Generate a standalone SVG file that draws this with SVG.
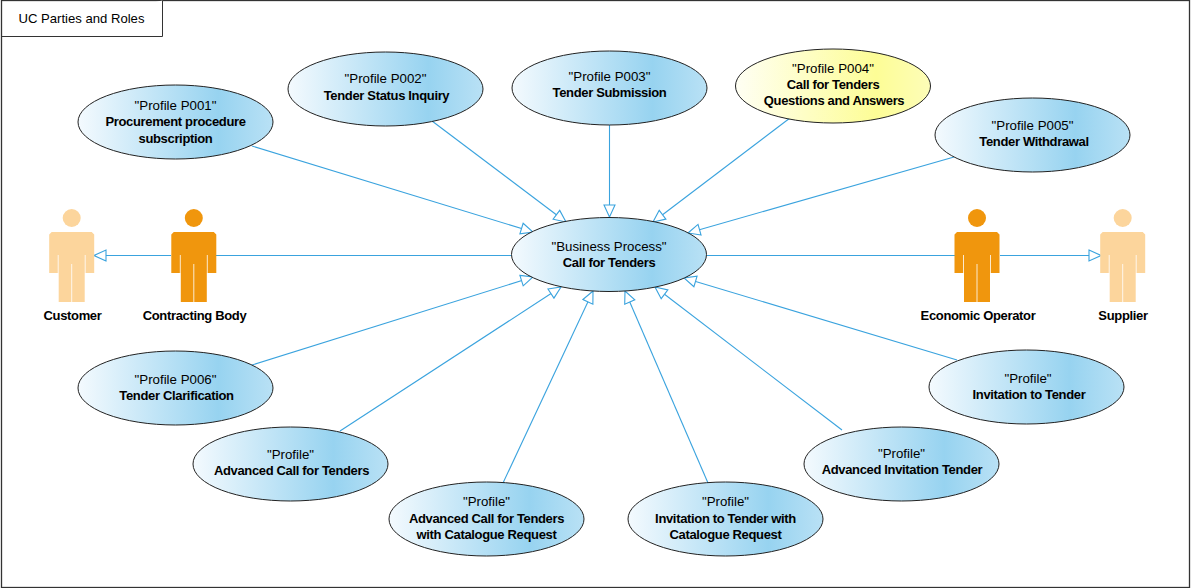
<svg xmlns="http://www.w3.org/2000/svg" xmlns:xlink="http://www.w3.org/1999/xlink" width="1191" height="588" viewBox="0 0 1191 588">
<style>
text{font-family:"Liberation Sans",Arial,sans-serif;font-size:13.300px;text-anchor:middle;fill:#000}
.b{font-weight:bold;font-size:13px;letter-spacing:-0.340px}
.e{stroke:#222;stroke-width:1;fill:url(#blue)}
.y{fill:url(#yellow)}
.c line{stroke:#3aa3de;stroke-width:1.100;fill:none}
.a{marker-end:url(#tri)}
.sep{stroke:#fff;stroke-opacity:.8;stroke-width:1;fill:none}
</style>
<defs>
<linearGradient id="blue"><stop offset="0" stop-color="#f4fafe"/><stop offset="0.72" stop-color="#97d3f0"/><stop offset="1" stop-color="#b9e1f5"/></linearGradient>
<linearGradient id="yellow"><stop offset="0" stop-color="#fffff4"/><stop offset="0.72" stop-color="#fdfd96"/><stop offset="1" stop-color="#fdfdb8"/></linearGradient>
<marker id="tri" markerUnits="userSpaceOnUse" markerWidth="14" markerHeight="14" refX="13" refY="7" orient="auto"><path d="M1 1.500L13 7L1 12.500Z" fill="#fff" stroke="#3aa3de" stroke-width="1.100"/></marker>
<g id="actor">
<circle cx="0" cy="-37" r="9"/>
<path d="M-20-23H20L22.500-20.500V18H13V47H-13V18H-22.500V-20.500Z"/>
<path class="sep" d="M-13.500 0V18M13.500 0V18M0 9V47"/>
</g>
</defs>
<rect x="0" y="0" width="1191" height="588" fill="#fff"/>
<g id="frame"><rect x="1.500" y="0.500" width="1188" height="587" fill="#fff" stroke="#333" stroke-width="1.300"/>
<path d="M1.500 36.500H162.500V0.500" fill="#fff" stroke="#333"/>
<text x="81.500" y="22.500" style="font-size:13.100px">UC Parties and Roles</text></g>
<g id="connectors" class="c">
<line class="a" x1="252" y1="146" x2="533" y2="232"/>
<line class="a" x1="432" y1="121" x2="566" y2="222"/>
<line class="a" x1="609.500" y1="125" x2="609.500" y2="217"/>
<line class="a" x1="790" y1="118" x2="653" y2="222"/>
<line class="a" x1="954" y1="157" x2="688" y2="233"/>
<line class="a" x1="252" y1="365" x2="533" y2="277"/>
<line class="a" x1="340" y1="431" x2="561" y2="287"/>
<line class="a" x1="503" y1="483" x2="593" y2="291"/>
<line class="a" x1="708" y1="483" x2="625" y2="291"/>
<line class="a" x1="842" y1="430" x2="655" y2="287"/>
<line class="a" x1="957" y1="360" x2="684" y2="278"/>
<line x1="216" y1="255.500" x2="511" y2="255.500"/>
<line x1="707" y1="255.500" x2="955" y2="255.500"/>
<line class="a" x1="171" y1="255.500" x2="94" y2="255.500"/>
<line class="a" x1="1000" y1="255.500" x2="1101" y2="255.500"/>
</g>
<g id="customer" fill="#fcd59c"><use xlink:href="#actor" href="#actor" x="71.700" y="255"/><text class="b" x="72.500" y="320">Customer</text></g>
<g id="contracting-body" fill="#f0960d"><use xlink:href="#actor" href="#actor" x="193.800" y="255"/><text class="b" x="194.500" y="320">Contracting Body</text></g>
<g id="economic-operator" fill="#f0960d"><use xlink:href="#actor" href="#actor" x="977" y="255"/><text class="b" x="978" y="320">Economic Operator</text></g>
<g id="supplier" fill="#fcd59c"><use xlink:href="#actor" href="#actor" x="1122.700" y="255"/><text class="b" x="1123" y="320">Supplier</text></g>
<g id="p001"><ellipse class="e" cx="175.500" cy="122" rx="97.500" ry="37"/><text x="175.500" y="110">"Profile P001"</text><text class="b" x="175.500" y="126">Procurement procedure</text><text class="b" x="175.500" y="143">subscription</text></g>
<g id="p002"><ellipse class="e" cx="385.500" cy="89" rx="97.500" ry="37"/><text x="385.500" y="83">"Profile P002"</text><text class="b" x="386.500" y="100">Tender Status Inquiry</text></g>
<g id="p003"><ellipse class="e" cx="609.500" cy="88" rx="97.500" ry="37"/><text x="609.500" y="81">"Profile P003"</text><text class="b" x="609.500" y="97">Tender Submission</text></g>
<g id="p004"><ellipse class="e y" cx="833" cy="86" rx="97.500" ry="37"/><text x="833" y="73">"Profile P004"</text><text class="b" x="833" y="89">Call for Tenders</text><text class="b" x="834" y="105">Questions and Answers</text></g>
<g id="p005"><ellipse class="e" cx="1032.500" cy="135" rx="97.500" ry="37"/><text x="1032.500" y="130">"Profile P005"</text><text class="b" x="1034" y="146">Tender Withdrawal</text></g>
<g id="bp"><ellipse class="e" cx="609" cy="254.500" rx="97.500" ry="37"/><text x="609" y="251">"Business Process"</text><text class="b" x="609" y="267">Call for Tenders</text></g>
<g id="p006"><ellipse class="e" cx="175.500" cy="388" rx="97.500" ry="37"/><text x="175.500" y="384">"Profile P006"</text><text class="b" x="176.500" y="400">Tender Clarification</text></g>
<g id="adv"><ellipse class="e" cx="290.500" cy="464" rx="97.500" ry="37"/><text x="290.500" y="459">"Profile"</text><text class="b" x="291.500" y="475">Advanced Call for Tenders</text></g>
<g id="advcat"><ellipse class="e" cx="486.500" cy="519" rx="97.500" ry="37"/><text x="486.500" y="506">"Profile"</text><text class="b" x="486.500" y="523">Advanced Call for Tenders</text><text class="b" x="486.500" y="539">with Catalogue Request</text></g>
<g id="invcat"><ellipse class="e" cx="725.500" cy="519" rx="97.500" ry="37"/><text x="725.500" y="506">"Profile"</text><text class="b" x="725.500" y="523">Invitation to Tender with</text><text class="b" x="725.500" y="539">Catalogue Request</text></g>
<g id="advinv"><ellipse class="e" cx="901.500" cy="464" rx="97.500" ry="37"/><text x="901.500" y="458">"Profile"</text><text class="b" x="902" y="474">Advanced Invitation Tender</text></g>
<g id="inv"><ellipse class="e" cx="1026.500" cy="387" rx="97.500" ry="37"/><text x="1028" y="383">"Profile"</text><text class="b" x="1029" y="399">Invitation to Tender</text></g>
</svg>
